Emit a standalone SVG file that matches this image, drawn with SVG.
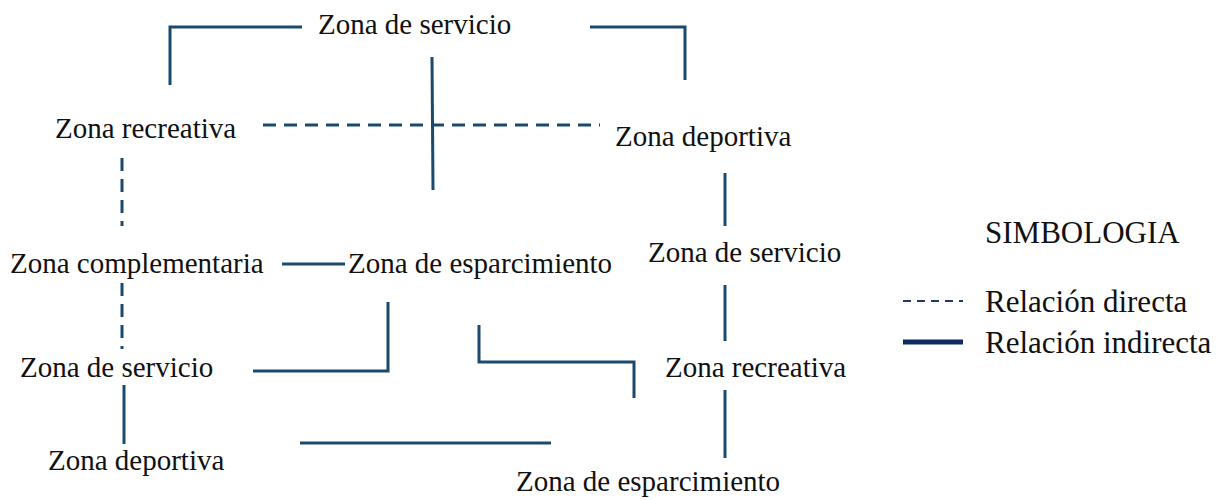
<svg xmlns="http://www.w3.org/2000/svg" width="1223" height="500" viewBox="0 0 1223 500">
<style>
text{font-family:"Liberation Serif","Times New Roman",serif;font-size:29px;fill:#111}
.leg{font-size:31px}
.s{fill:none;stroke:#1b4a6f;stroke-width:3}
.d{fill:none;stroke:#1b4a6f;stroke-width:3;stroke-dasharray:13 8}
</style>
<rect width="1223" height="500" fill="#fff"/>
<g id="connectors">
<polyline class="s" points="302,27 170,27 170,85"/>
<polyline class="s" points="590,27 685,27 685,80"/>
<line class="s" x1="432" y1="57" x2="433" y2="190"/>
<line class="d" x1="263" y1="125" x2="600" y2="125"/>
<line class="d" x1="122" y1="158" x2="122" y2="226"/>
<line class="s" x1="282" y1="264" x2="345" y2="264"/>
<line class="s" x1="725" y1="173" x2="725" y2="226"/>
<line class="s" x1="725" y1="285" x2="725" y2="341"/>
<line class="s" x1="725" y1="390" x2="725" y2="458"/>
<line class="d" x1="122" y1="283" x2="122" y2="349"/>
<polyline class="s" points="253,371 388,371 388,302"/>
<polyline class="s" points="479,325 479,362 634,362 634,398"/>
<line class="s" x1="124" y1="385" x2="124" y2="444"/>
<line class="s" x1="300" y1="443" x2="551" y2="443"/>
</g>
<g id="n-servicio-top"><text x="318" y="34">Zona de servicio</text></g>
<g id="n-recreativa-left"><text x="55" y="138">Zona recreativa</text></g>
<g id="n-deportiva-right"><text x="615" y="146">Zona deportiva</text></g>
<g id="n-complementaria"><text x="10" y="273">Zona complementaria</text></g>
<g id="n-esparcimiento-mid"><text x="348" y="273">Zona de esparcimiento</text></g>
<g id="n-servicio-right"><text x="648" y="262">Zona de servicio</text></g>
<g id="n-servicio-left"><text x="20" y="377">Zona de servicio</text></g>
<g id="n-recreativa-right"><text x="665" y="377">Zona recreativa</text></g>
<g id="n-deportiva-left"><text x="48" y="470">Zona deportiva</text></g>
<g id="n-esparcimiento-bottom"><text x="516" y="491">Zona de esparcimiento</text></g>
<g id="legend">
<text class="leg" x="985" y="243">SIMBOLOGIA</text>
<line x1="903" y1="301" x2="963" y2="301" stroke="#1f3a6e" stroke-width="2" stroke-dasharray="8 6"/>
<text class="leg" x="985" y="312">Relación directa</text>
<line x1="903" y1="342" x2="963" y2="342" stroke="#0f2a5e" stroke-width="5"/>
<text class="leg" x="985" y="353">Relación indirecta</text>
</g>
</svg>
